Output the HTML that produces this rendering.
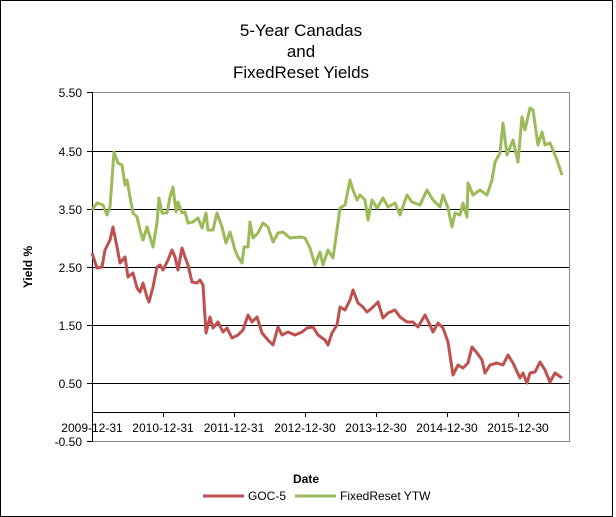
<!DOCTYPE html>
<html><head><style>
body{margin:0;background:#fff;}
svg{display:block;font-family:"Liberation Sans",Arial,sans-serif;}
</style></head><body>
<svg width="616" height="517" viewBox="0 0 616 517" xmlns="http://www.w3.org/2000/svg">
<rect x="0.5" y="0.5" width="612" height="516" fill="#fff" stroke="#000"/>
<g font-size="17" text-anchor="middle" fill="#000">
<text x="301" y="36">5-Year Canadas</text>
<text x="301" y="57">and</text>
<text x="301" y="78">FixedReset Yields</text>
</g>
<rect x="92.5" y="92.5" width="477" height="349" fill="#fff" stroke="#888"/>
<g stroke="#000" stroke-width="1">
<line x1="92" y1="151.5" x2="569" y2="151.5"/>
<line x1="92" y1="209.5" x2="569" y2="209.5"/>
<line x1="92" y1="267.5" x2="569" y2="267.5"/>
<line x1="92" y1="325.5" x2="569" y2="325.5"/>
<line x1="92" y1="383.5" x2="569" y2="383.5"/>
<line x1="92" y1="412.5" x2="569" y2="412.5"/>
<line x1="92.5" y1="92" x2="92.5" y2="442"/>
<line x1="87" y1="92.5" x2="92" y2="92.5"/>
<line x1="87" y1="151.5" x2="92" y2="151.5"/>
<line x1="87" y1="209.5" x2="92" y2="209.5"/>
<line x1="87" y1="267.5" x2="92" y2="267.5"/>
<line x1="87" y1="325.5" x2="92" y2="325.5"/>
<line x1="87" y1="383.5" x2="92" y2="383.5"/>
<line x1="87" y1="441.5" x2="92" y2="441.5"/>
<line x1="163.5" y1="412" x2="163.5" y2="417"/>
<line x1="234.5" y1="412" x2="234.5" y2="417"/>
<line x1="305.5" y1="412" x2="305.5" y2="417"/>
<line x1="376.5" y1="412" x2="376.5" y2="417"/>
<line x1="447.5" y1="412" x2="447.5" y2="417"/>
<line x1="518.5" y1="412" x2="518.5" y2="417"/>
</g>
<g font-size="12" text-anchor="end" fill="#000">
<text x="82" y="97">5.50</text>
<text x="82" y="156">4.50</text>
<text x="82" y="214">3.50</text>
<text x="82" y="272">2.50</text>
<text x="82" y="330">1.50</text>
<text x="82" y="388">0.50</text>
<text x="82" y="446">-0.50</text>
</g>
<g font-size="12" text-anchor="middle" fill="#000">
<text x="92" y="432">2009-12-31</text>
<text x="163" y="432">2010-12-31</text>
<text x="234" y="432">2011-12-31</text>
<text x="305" y="432">2012-12-30</text>
<text x="376" y="432">2013-12-30</text>
<text x="447" y="432">2014-12-30</text>
<text x="518" y="432">2015-12-30</text>
</g>
<text x="32" y="267" font-size="12" font-weight="bold" text-anchor="middle" transform="rotate(-90 32 267)">Yield %</text>
<text x="306" y="483" font-size="12" font-weight="bold" text-anchor="middle">Date</text>
<polyline fill="none" stroke="#9bbb59" stroke-width="3" stroke-linejoin="round" points="92,210 97,203 103,205 107,215 110,207 114,152 118,163 122,165 125,185 127,180 130,197 133,213 137,217 140,230 143,240 147,227 150,237 153,247 157,223 159,198 162,213 167,213 170,197 173,187 176,212 178,202 182,213 185,212 188,223 193,222 198,218 202,228 206,213 208,230 213,230 217,213 222,227 226,243 230,232 235,250 238,257 242,263 244,247 248,247 250,222 253,238 258,233 263,223 268,227 273,242 278,233 283,232 290,238 300,237 305,238 310,248 315,265 320,252 323,265 328,250 333,258 337,230 340,208 345,205 350,180 353,190 357,200 360,195 365,200 368,220 372,200 377,208 383,198 388,207 395,203 400,215 407,195 412,202 420,205 427,190 433,200 440,207 443,195 448,208 452,227 455,213 460,215 463,203 467,217 468,183 473,195 480,190 487,195 492,180 495,162 500,153 503,123 507,155 513,140 518,162 522,117 525,130 530,108 533,110 538,145 542,132 545,145 550,143 553,150 557,160 562,175"/>
<polyline fill="none" stroke="#c0504d" stroke-width="3" stroke-linejoin="round" points="92,253 97,268 102,267 105,250 110,240 113,227 117,247 120,263 125,257 128,277 133,273 137,288 140,292 143,283 147,297 149,302 153,287 157,267 160,265 163,270 168,260 172,250 175,257 178,270 182,248 185,257 188,265 192,282 197,283 200,280 203,285 206,333 210,317 213,328 218,322 223,332 227,328 232,338 238,335 243,330 248,315 252,322 257,317 262,333 268,340 273,345 278,327 282,335 288,332 295,335 302,332 307,328 313,327 318,335 325,340 328,345 332,333 337,325 340,307 345,310 350,300 353,290 358,303 363,307 367,312 372,308 378,302 383,318 388,313 395,310 400,317 407,322 413,322 418,327 425,315 430,325 433,332 438,323 443,328 448,342 453,375 458,365 463,368 468,363 472,347 477,353 482,360 485,373 490,365 497,363 503,365 508,355 513,363 520,378 523,373 527,383 530,373 535,372 540,362 545,370 550,382 555,373 562,378"/>
<line x1="203" y1="496" x2="244" y2="496" stroke="#c0504d" stroke-width="3"/>
<text x="248" y="500" font-size="12">GOC-5</text>
<line x1="295" y1="496" x2="336" y2="496" stroke="#9bbb59" stroke-width="3"/>
<text x="340" y="500" font-size="12">FixedReset YTW</text>
</svg>
</body></html>
